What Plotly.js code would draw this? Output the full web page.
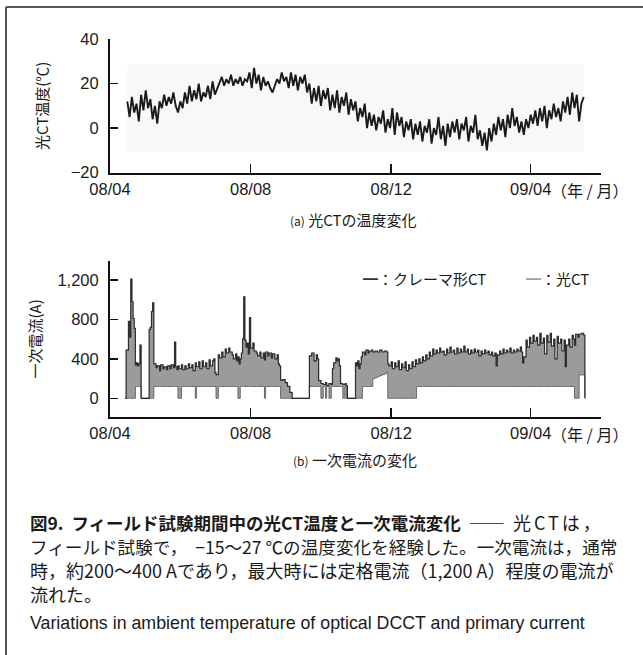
<!DOCTYPE html>
<html><head><meta charset="utf-8">
<script src="https://cdn.plot.ly/plotly-3.0.1.min.js"></script>
<style>html,body{margin:0;padding:0;background:#fff;}#chart{width:643px;height:655px;}</style>
</head><body><div id="chart"></div>
<script>
// ---- axis ticks ----
const tickDates = ['2008-04-01','2008-08-01','2008-12-01','2009-04-01'];
const tickLabels = ['08/04','08/08','08/12','09/04'];
const tempTicks = [-20, 0, 20, 40];
const currentTicks = [0, 400, 800, 1200];
const currentTickLabels = ['0', '400', '800', '1,200'];

// ---- (a) optical CT temperature: days after 2008-04-01, degC ----
const tempDay = [15,17,19,21,23,25,27,29,31,33, 35,37,39,41,43,45,47,49,51,53,
 55,57,59,61,63,65,67,69,71,73, 75,77,79,81,83,85,87,89,91,93,
 95,97,99,101,103,105,107,109,111,113, 115,117,119,121,123,125,127,129,131,133,
 135,137,139,141,143,145,147,149,151,153, 155,157,159,161,163,165,167,169,171,173,
 175,177,179,181,183,185,187,189,191,193, 195,197,199,201,203,205,207,209,211,213,
 215,217,219,221,223,225,227,229,231,233, 235,237,239,241,243,245,247,249,251,253,
 255,257,259,261,263,265,267,269,271,273, 275,277,279,281,283,285,287,289,291,293,
 295,297,299,301,303,305,307,309,311,313, 315,317,319,321,323,325,327,329,331,333,
 335,337,339,341,343,345,347,349,351,353, 355,357,359,361,363,365,367,369,371,373,
 375,377,379,381,383,385,387,389,391,393, 395,397,399,401,403,405,407,409,411];
const tempValue = [12,5,14,7,11,3,15,8,17,9, 13,4,10,2,12,9,15,10,14,11,
 16,10,7,12,9,16,11,19,12,17, 13,20,12,16,14,19,13,21,15,18,
 20,23,19,22,20,24,19,22,20,23, 19,22,21,25,18,27,20,24,17,23,
 19,21,18,16,19,22,20,25,21,23, 18,25,19,24,17,23,20,24,16,20,
 11,18,12,19,10,17,13,18,8,15, 9,17,7,14,10,16,6,13,8,12,
 3,9,5,11,0,7,1,6,-1,5, 2,8,-2,4,0,9,-3,7,1,5,
 -4,3,-1,4,-5,2,-3,3,-6,1, -2,4,-7,0,-3,5,-5,1,-8,2,
 -4,3,-2,4,-5,2,-1,5,-6,1, -2,6,-5,-1,-8,-2,-10,0,-6,2,
 -3,5,-1,4,-4,6,0,9,1,5, -2,3,-3,4,0,6,2,8,1,9,
 3,10,0,8,4,11,5,9,3,12, 7,14,6,16,9,15,3,11,14];

// ---- (b) primary current: days after 2008-04-01, A ----
const currentDay = [13,14,16,17,18,19,20,21,22,23,24,25,26,27,34,35,36,37,38,40,
 41,43,44,46,47,49,50,52,53,55,56,57,58,59,60,62,63,65,66,68,
 69,71,72,74,75,77,78,80,81,83,84,86,87,89,90,91,92,94,95,97,
 98,100,101,103,104,106,107,109,110,111,112,113,114,115,116,117,118,119,120,121,
 122,124,125,127,128,130,131,133,134,135,137,138,140,141,143,145,146,147,148,150,
 152,154,156,158,173,175,177,179,180,181,183,185,187,188,190,192,193,194,196,197,
 198,199,200,202,204,205,206,213,214,215,216,217,218,219,221,222,224,225,227,228,
 230,232,234,236,238,240,241,242,244,245,247,248,250,251,253,254,256,257,259,260,
 262,263,265,266,268,269,271,272,274,275,277,278,280,281,283,284,286,287,289,290,
 292,293,295,296,298,299,301,302,304,305,307,308,310,311,313,314,316,317,319,320,
 322,323,325,326,328,329,331,332,334,335,336,338,339,341,342,344,345,347,348,350,
 351,353,354,356,357,358,359,361,362,364,365,367,368,370,371,373,374,376,377,379,
 380,382,383,385,386,388,389,391,392,394,395,396,398,399,401,402,403,404,406,407,
 409,411,412];
// daily maximum (クレーマ形CT, dark line; top of the 光CT band)
const currentMax = [0,490,780,620,1210,980,810,710,340,360,330,350,540,0,700,720,880,970,350,310,
 330,280,340,300,320,290,330,300,340,310,570,320,290,330,300,340,290,330,300,350,
 310,340,280,360,320,370,300,380,320,360,300,390,330,380,400,260,240,440,410,470,
 420,500,460,510,470,440,400,450,380,420,350,400,460,600,1030,590,520,560,450,820,
 510,560,480,460,430,470,410,460,390,470,430,460,410,450,400,440,350,330,185,190,
 160,120,60,0,430,460,380,440,400,180,150,140,160,130,150,140,300,360,410,380,
 400,330,150,140,150,130,0,360,330,380,300,350,420,470,440,490,460,480,490,470,
 480,470,490,470,480,470,350,330,370,300,360,320,380,290,350,310,370,280,340,300,
 370,320,390,350,400,360,420,380,440,400,470,430,500,450,490,460,510,470,480,440,
 500,460,520,470,490,450,510,460,500,470,530,470,500,450,490,460,500,470,490,430,
 480,450,490,460,480,440,470,430,460,330,440,480,450,500,460,490,470,510,460,490,
 470,500,480,520,470,360,420,590,520,620,560,640,580,620,540,660,560,610,450,640,
 570,660,530,600,400,630,560,600,480,590,320,540,600,520,640,600,540,650,620,650,
 660,640,0];
// daily minimum (lower edge of the band)
const currentMin = [0,0,0,0,0,0,0,0,120,120,120,120,120,0,0,0,0,0,120,120,
 120,120,120,120,120,120,120,120,120,120,120,120,120,0,0,120,120,120,120,120,
 120,120,120,0,120,120,120,120,120,120,120,120,120,120,120,120,0,120,120,120,
 120,120,120,120,120,120,120,120,120,0,0,120,120,120,120,120,120,120,120,120,
 120,120,120,120,120,120,120,120,0,120,120,120,120,120,120,120,120,120,0,0,
 0,0,0,0,120,120,120,120,120,120,0,120,0,120,0,120,120,120,120,120,
 120,120,120,0,120,0,0,0,0,0,0,0,0,120,120,120,120,120,120,200,
 210,220,230,240,250,265,0,0,0,0,0,0,0,0,0,0,0,0,0,0,
 0,0,0,120,120,120,120,120,120,120,120,120,120,120,120,120,120,120,120,120,
 120,120,120,120,120,120,120,120,120,120,120,120,120,120,120,120,120,120,120,120,
 120,120,120,120,120,120,120,120,120,120,120,120,120,120,120,120,120,120,120,120,
 120,120,120,120,120,120,120,120,120,120,120,120,120,120,120,120,120,120,120,120,
 120,120,120,120,120,120,120,120,120,120,120,120,120,120,120,120,0,0,0,237,
 237,237,0];

// ---- caption ----
const captionJa = [
  '<b><span style="font-size:17.5px">図9.  フィールド試験期間中の光CT温度と一次電流変化</span></b>  ――  <span style="letter-spacing:3px">光CTは，</span>',
  'フィールド試験で，  −15～27 ℃の温度変化を経験した。一次電流は，通常',
  '時，約200～400 Aであり，最大時には定格電流（1,200 A）程度の電流が',
  '流れた。'
];
const captionEn = 'Variations in ambient temperature of optical DCCT and primary current';

const BASE = Date.UTC(2008, 3, 1);
const toDate = d => new Date(BASE + d * 86400000).toISOString().slice(0, 10);
const tempX = tempDay.map(toDate);
const curX = currentDay.map(toDate);

const CJK = 'Noto Sans CJK JP';
const LAT = 'Liberation Sans, Noto Sans CJK JP';
const H = 655, PL = 110, PW = 491;
const px = x => (x - PL) / PW;      // pixel -> paper x
const py = y => 1 - y / H;          // pixel -> paper y

const traces = [
  {x: tempX, y: tempValue, type: 'scatter', mode: 'lines', name: '光CT温度',
   line: {color: '#1a1a1a', width: 1.9}, xaxis: 'x', yaxis: 'y'},
  {x: curX, y: currentMin, type: 'scatter', mode: 'lines', name: '光CT(最小)',
   line: {color: '#6a6a6a', width: 1, shape: 'hv'}, xaxis: 'x2', yaxis: 'y2'},
  {x: curX, y: currentMax, type: 'scatter', mode: 'lines', name: '光CT',
   line: {color: '#9a9a9a', width: 0.5, shape: 'hv'}, fill: 'tonexty', fillcolor: '#9b9b9b',
   xaxis: 'x2', yaxis: 'y2'},
  {x: curX, y: currentMax, type: 'scatter', mode: 'lines', name: 'クレーマ形CT',
   line: {color: '#2e2e2e', width: 1.2, shape: 'hv'}, xaxis: 'x2', yaxis: 'y2'}
];

const xCommon = {
  type: 'date', range: ['2008-04-01', '2009-06-01'],
  tickmode: 'array', tickvals: tickDates, ticktext: tickLabels,
  ticks: 'inside', ticklen: 9, tickwidth: 1.5, tickcolor: '#111',
  showline: true, linewidth: 2, linecolor: '#111',
  showgrid: false, zeroline: false,
  tickfont: {family: LAT, size: 16.5, color: '#1a1a1a'}
};
const yCommon = {
  ticks: 'inside', ticklen: 8, tickwidth: 1.5, tickcolor: '#111',
  showline: true, linewidth: 2, linecolor: '#111',
  showgrid: false, zeroline: false, ticklabelstandoff: 6,
  tickfont: {family: LAT, size: 16.5, color: '#1a1a1a'}
};

const capLineY = [522, 546, 570, 594];
const captionAnnotations = captionJa.map((t, i) => ({
  xref: 'paper', yref: 'paper', x: px(28), y: py(capLineY[i]), xanchor: 'left', yanchor: 'middle',
  text: t, showarrow: false, font: {family: CJK, size: i === 1 ? 17.6 : 18, color: '#1a1a1a'}
}));

const layout = {
  width: 643, height: 655,
  margin: {l: PL, r: 643 - PL - PW, t: 0, b: 0},
  paper_bgcolor: '#fff', plot_bgcolor: 'rgba(0,0,0,0)',
  showlegend: false,
  font: {family: LAT, color: '#1a1a1a'},
  xaxis: Object.assign({}, xCommon, {anchor: 'y', domain: [0, 1]}),
  xaxis2: Object.assign({}, xCommon, {anchor: 'y2', domain: [0, 1]}),
  yaxis: Object.assign({}, yCommon, {
    anchor: 'x', domain: [py(172.7), py(39)], range: [-20, 40],
    tickmode: 'array', tickvals: tempTicks,
    title: {text: '光CT温度(℃)', font: {family: CJK, size: 15}, standoff: 18}
  }),
  yaxis2: Object.assign({}, yCommon, {
    anchor: 'x2', domain: [py(416.7), py(261)], range: [-187, 1394],
    tickmode: 'array', tickvals: currentTicks.concat([1394]), ticktext: currentTickLabels.concat(['']),
    title: {text: '一次電流(A)', font: {family: CJK, size: 15}, standoff: 12}
  }),
  shapes: [
    {type: 'rect', xref: 'x', yref: 'y', layer: 'below',
     x0: tempX[0], x1: tempX[tempX.length - 1], y0: -10.5, y1: 28.4,
     fillcolor: '#f8f8f8', line: {width: 0}},
    {type: 'line', xref: 'paper', yref: 'paper', x0: px(6), x1: px(6), y0: py(7), y1: py(655),
     line: {color: '#555', width: 2}},
    {type: 'line', xref: 'paper', yref: 'paper', x0: px(6), x1: px(643), y0: py(7), y1: py(7),
     line: {color: '#555', width: 2}}
  ],
  annotations: [
    {xref: 'paper', yref: 'paper', x: px(549), y: py(190), xanchor: 'left', yanchor: 'middle',
     text: '（年 / 月）', showarrow: false, font: {family: CJK, size: 16}},
    {xref: 'paper', yref: 'paper', x: px(549), y: py(434), xanchor: 'left', yanchor: 'middle',
     text: '（年 / 月）', showarrow: false, font: {family: CJK, size: 16}},
    {xref: 'paper', yref: 'paper', x: px(353), y: py(219), xanchor: 'center', yanchor: 'middle',
     text: '<span style="font-size:12px">(a)</span> 光CTの温度変化', showarrow: false, font: {family: CJK, size: 15}},
    {xref: 'paper', yref: 'paper', x: px(355), y: py(459), xanchor: 'center', yanchor: 'middle',
     text: '<span style="font-size:12px">(b)</span> 一次電流の変化', showarrow: false, font: {family: CJK, size: 15}},
    {xref: 'paper', yref: 'paper', x: px(361), y: py(278), xanchor: 'left', yanchor: 'middle',
     text: '<span style="color:#333">━</span>：クレーマ形CT', showarrow: false, font: {family: CJK, size: 15}},
    {xref: 'paper', yref: 'paper', x: px(524), y: py(278), xanchor: 'left', yanchor: 'middle',
     text: '<span style="color:#a0a0a0">━</span>：光CT', showarrow: false, font: {family: CJK, size: 15}}
  ].concat(captionAnnotations, [
    {xref: 'paper', yref: 'paper', x: px(28), y: py(623), xanchor: 'left', yanchor: 'middle',
     text: captionEn, showarrow: false,
     font: {family: 'Liberation Sans', size: 17.8, color: '#1a1a1a'}}
  ])
};

Plotly.newPlot('chart', traces, layout, {staticPlot: true, displayModeBar: false});
</script>
</body></html>
